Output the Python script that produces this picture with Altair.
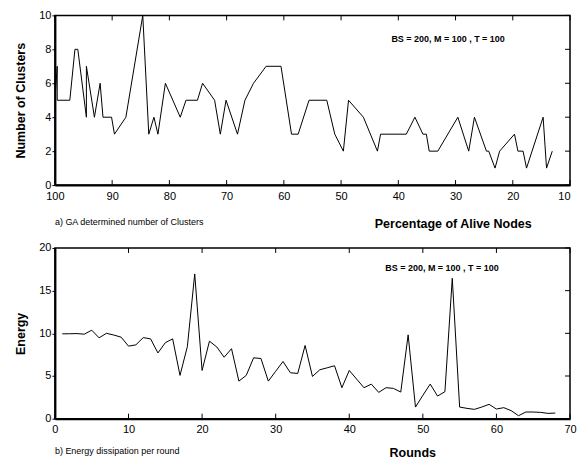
import altair as alt
import pandas as pd

# ---------------- data ----------------
pct = [99.9, 99.6, 99.6, 97.4, 96.5, 96.0, 94.5, 94.5, 93.1, 92.1,
       91.6, 90.1, 89.6, 87.6, 84.65, 83.6, 82.7, 82.0, 80.7, 78.1,
       77.1, 75.1, 74.2, 72.1, 71.1, 70.1, 68.1, 66.8, 65.3, 63.1,
       60.5, 58.66, 57.5, 55.6, 52.5, 51.1, 49.6, 48.7, 46.1, 43.65,
       43.1, 38.6, 37.1, 35.7, 35.1, 34.6, 33.1, 29.6, 27.7, 26.7,
       24.6, 24.2, 23.1, 22.3, 19.7, 19.1, 18.2, 17.6, 14.7, 14.1,
       13.1]
clusters = [5.5, 7, 5, 5, 8, 8, 4, 7, 4, 6,
            4, 4, 3, 4, 10, 3, 4, 3, 6, 4,
            5, 5, 6, 5, 3, 5, 3, 5, 6, 7,
            7, 3, 3, 5, 5, 3, 2, 5, 4, 2,
            3, 3, 4, 3, 3, 2, 2, 4, 2, 4,
            2, 2, 1, 2, 3, 2, 2, 1, 4, 1,
            2]

rounds = list(range(1, 69))
energy = [9.94, 9.95, 9.97, 9.9, 10.37, 9.47, 10.0, 9.8, 9.55, 8.5,
          8.65, 9.5, 9.35, 7.7, 8.9, 9.35, 5.07, 8.45, 16.96, 5.65,
          9.08, 8.4, 7.2, 8.2, 4.4, 5.07, 7.13, 7.05, 4.4, 5.55,
          6.7, 5.38, 5.3, 8.58, 4.95, 5.73, 5.96, 6.2, 3.63, 5.65,
          4.64, 3.63, 4.05, 3.08, 3.63, 3.55, 3.12, 9.82, 1.36, 2.73,
          4.05, 2.65, 3.16, 16.45, 1.36, 1.21, 1.09, 1.36, 1.68, 1.13,
          1.29, 0.94, 0.35, 0.78, 0.78, 0.74, 0.62, 0.66]

top_x_ticks = [100, 90, 80, 70, 60, 50, 40, 30, 20, 10]
top_y_ticks = [0, 2, 4, 6, 8, 10]
bot_x_ticks = [0, 10, 20, 30, 40, 50, 60, 70]
bot_y_ticks = [0, 5, 10, 15, 20]

note_text = ["BS = 200, M = 100 , T = 100"]
note_top_pct = [31.3]
note_top_clusters = [8.6]
note_bot_round = [52.6]
note_bot_energy = [17.7]

FONT = "Liberation Sans"
W = 516
TICK = 5


def panel(df, xf, yf, xticks, yticks, xdomain, ydomain, reverse,
          xtitle, xtitle_x, xtitle_y, ytitle, caption, note_df, H, label_align):
    xscale = alt.Scale(domain=xdomain, reverse=reverse, nice=False, zero=False)
    yscale = alt.Scale(domain=ydomain, nice=False, zero=False)
    xaxis = alt.Axis(values=xticks, ticks=False, labelPadding=5, labelFontSize=11,
                     labelFont=FONT, labelColor="black", labelAlign=label_align,
                     domainColor="black", domainWidth=2, grid=False,
                     title=xtitle, titleFont=FONT, titleFontSize=12.5,
                     titleFontWeight="bold", titleColor="black",
                     titleX=xtitle_x, titleY=xtitle_y, titleAlign="center",
                     titleBaseline="middle")
    yaxis = alt.Axis(values=yticks, tickSize=3, tickColor="black", tickWidth=1,
                     labelPadding=1, labelFontSize=11, labelFont=FONT,
                     labelColor="black", domainColor="black", domainWidth=2,
                     grid=False, title=ytitle, titleFont=FONT, titleFontSize=12.5,
                     titleFontWeight="bold", titleColor="black", titlePadding=11)

    def X():
        return alt.X(f"{xf}:Q", scale=xscale, axis=xaxis)

    def Y():
        return alt.Y(f"{yf}:Q", scale=yscale, axis=yaxis)

    xt_df = pd.DataFrame({xf: xticks})
    yt_df = pd.DataFrame({yf: yticks})

    line = alt.Chart(df).mark_line(color="black", strokeWidth=1).encode(
        x=X(), y=Y(), order=alt.Order("i:Q"))
    xt_top = alt.Chart(xt_df).mark_rule(color="black", strokeWidth=1).encode(
        x=X(), y=alt.value(0), y2=alt.value(TICK))
    xt_bot = alt.Chart(xt_df).mark_rule(color="black", strokeWidth=1).encode(
        x=X(), y=alt.value(H), y2=alt.value(H - TICK))
    yt_right = alt.Chart(yt_df).mark_rule(color="black", strokeWidth=1).encode(
        y=Y(), x=alt.value(W - TICK), x2=alt.value(W))
    note = alt.Chart(note_df).mark_text(font=FONT, fontSize=9, fontWeight="bold",
                                        color="black").encode(
        x=X(), y=Y(), text="label:N")

    return alt.layer(line, xt_top, xt_bot, yt_right, note).properties(
        width=W, height=H,
        title=alt.TitleParams(caption, orient="bottom", anchor="start", frame="group",
                              font=FONT, fontSize=9, fontWeight="normal",
                              color="black", dy=-12, offset=0))


df_top = pd.DataFrame({"pct": pct, "clusters": clusters, "i": list(range(len(pct)))})
df_bot = pd.DataFrame({"round": rounds, "energy": energy, "i": list(range(len(rounds)))})
note_top = pd.DataFrame({"pct": note_top_pct, "clusters": note_top_clusters, "label": note_text})
note_bot = pd.DataFrame({"round": note_bot_round, "energy": note_bot_energy, "label": note_text})

top = panel(df_top, "pct", "clusters", top_x_ticks, top_y_ticks, [10, 100], [0, 10], True,
            "Percentage of Alive Nodes", 398.5, 38, "Number of Clusters",
            "a) GA determined number of Clusters", note_top, 170,
            alt.expr("datum.value == 10 ? 'right' : 'center'"))
bottom = panel(df_bot, "round", "energy", bot_x_ticks, bot_y_ticks, [0, 70], [0, 20], False,
               "Rounds", 358, 34, "Energy",
               "b) Energy dissipation per round", note_bot, 171, "center")

chart = alt.vconcat(top, bottom, spacing=10).configure_view(
    stroke="black", strokeWidth=1.5).properties(
    padding={"left": 6, "right": 0, "top": 0, "bottom": 0},
    background="white")

chart.save("out.html", embed_options={"renderer": "svg", "actions": False})
